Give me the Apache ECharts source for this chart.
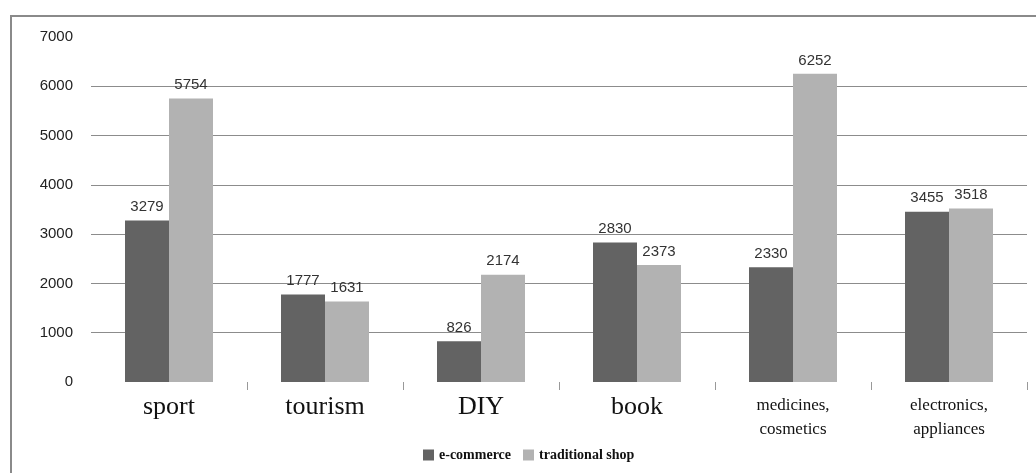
<!DOCTYPE html>
<html>
<head>
<meta charset="utf-8">
<script src="https://cdn.jsdelivr.net/npm/echarts@6/dist/echarts.min.js"></script>
<style>
html,body{margin:0;padding:0;background:#fff;}
#frame{position:absolute;left:10px;top:15px;width:1030px;height:470px;border-left:2px solid #8a8a8a;border-top:2px solid #8a8a8a;box-sizing:border-box;}
#c{position:absolute;left:0;top:0;width:1036px;height:473px;}
</style>
</head>
<body>
<div id="frame"></div>
<div id="c"></div>
<script>
var categories = ['sport', 'tourism', 'DIY', 'book', 'medicines,\ncosmetics', 'electronics,\nappliances'];
var ecommerce = [3279, 1777, 826, 2830, 2330, 3455];
var traditional = [5754, 1631, 2174, 2373, 6252, 3518];
var seriesNames = ['e-commerce', 'traditional shop'];

var chart = echarts.init(document.getElementById('c'), null, {renderer: 'canvas'});
var labelStyle = {show: true, position: 'top', distance: 6, color: '#333', fontFamily: 'Liberation Sans', fontSize: 15};
chart.setOption({
  animation: false,
  grid: {left: 91, right: 9, top: 37, bottom: 91},
  legend: {
    left: 418, top: 443, itemWidth: 11, itemHeight: 11, itemGap: 12, icon: 'rect',
    textStyle: {fontFamily: 'Liberation Serif', fontWeight: 'bold', fontSize: 14, color: '#111'},
    data: seriesNames
  },
  xAxis: {
    type: 'category', data: categories,
    axisLine: {show: false},
    axisTick: {show: true, length: 8, interval: function (i) { return i > 0; }, lineStyle: {color: '#999'}},
    axisLabel: {
      margin: 12, interval: 0, verticalAlign: 'top',
      formatter: function (v) {
        if (v.indexOf('\n') >= 0) {
          return v.split('\n').map(function (s) { return '{s|' + s + '}'; }).join('\n');
        }
        return '{b|' + v + '}';
      },
      rich: {
        b: {fontFamily: 'Liberation Serif', fontSize: 26, color: '#111', lineHeight: 26},
        s: {fontFamily: 'Liberation Serif', fontSize: 17, color: '#111', lineHeight: 24}
      }
    }
  },
  yAxis: {
    type: 'value', min: 0, max: 7000, interval: 1000,
    axisLine: {show: false}, axisTick: {show: false},
    axisLabel: {margin: 18, color: '#222', fontFamily: 'Liberation Sans', fontSize: 15, formatter: function (v) { return String(v); }},
    splitLine: {show: true, lineStyle: {color: ['transparent', '#8c8c8c', '#8c8c8c', '#8c8c8c', '#8c8c8c', '#8c8c8c', '#8c8c8c', 'transparent'], width: 1}}
  },
  series: [
    {name: seriesNames[0], type: 'bar', data: ecommerce, barWidth: 44, barGap: '0%', itemStyle: {color: '#636363'}, label: labelStyle},
    {name: seriesNames[1], type: 'bar', data: traditional, barWidth: 44, barGap: '0%', itemStyle: {color: '#b2b2b2'}, label: labelStyle}
  ]
});
</script>
</body>
</html>
